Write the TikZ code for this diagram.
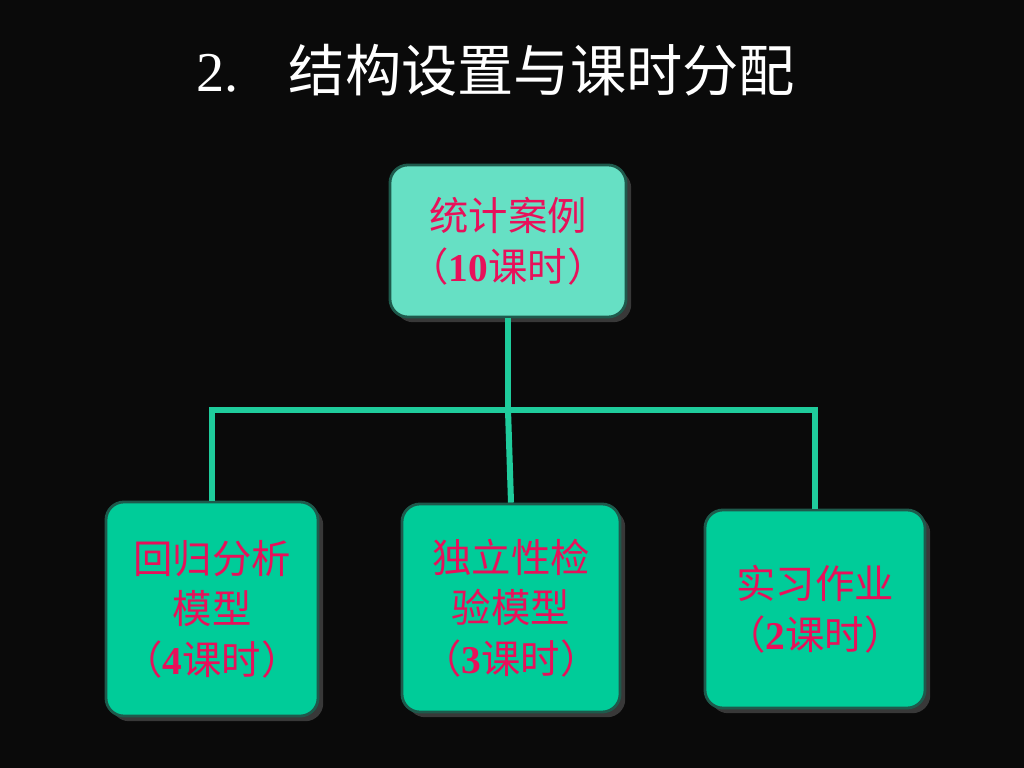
\documentclass[tikz,border=0pt]{standalone}
\usepackage{fontspec}
\setmainfont{Liberation Serif}
\newfontfamily\cjk{Noto Sans CJK SC}
\usetikzlibrary{shadows}
\definecolor{topfill}{HTML}{66E0C4}
\definecolor{boxfill}{HTML}{00CC99}
\definecolor{boxline}{HTML}{1E5A4C}
\definecolor{linkcol}{HTML}{1FCC9C}
\definecolor{txtpink}{HTML}{E8105A}

\begin{document}
\begin{tikzpicture}[x=0.025cm,y=-0.025cm,
  box/.style={draw=boxline,line width=2pt,rounded corners=0.45cm,fill=boxfill,
    text=txtpink,align=center,inner sep=0pt,
    font=\cjk\fontsize{28}{36}\selectfont,
    drop shadow={shadow xshift=0.13cm,shadow yshift=-0.13cm,fill=black!78,opacity=1}},
  link/.style={linkcol,line width=4.3pt}]
\fill[black!96](0,0)rectangle(1024,768);
%
\node[white,font=\fontsize{40}{44}\selectfont](title) at (496,70){2.\hspace{1.25cm}{\cjk 结构设置与课时分配}};
%
\node[box,fill=topfill,minimum width=5.9cm,minimum height=3.8cm](case) at (508,241){统计案例\\（{\rmfamily\bfseries 10}课时）};
\node[box,minimum width=5.3cm,minimum height=5.35cm](reg) at (212,609){回归分析\\模型\\（{\rmfamily\bfseries 4}课时）};
\node[box,minimum width=5.45cm,minimum height=5.2cm](indep) at (511,608){独立性检\\验模型\\（{\rmfamily\bfseries 3}课时）};
\node[box,minimum width=5.5cm,minimum height=4.95cm](work) at (815,609){实习作业\\（{\rmfamily\bfseries 2}课时）};
%
\coordinate(fork) at (508,410);
\draw[link](case.south)--(fork);
\draw[link](reg.north)|-(fork)-|(work.north);
\draw[link](fork)--(indep.north);
\end{tikzpicture}
\end{document}
